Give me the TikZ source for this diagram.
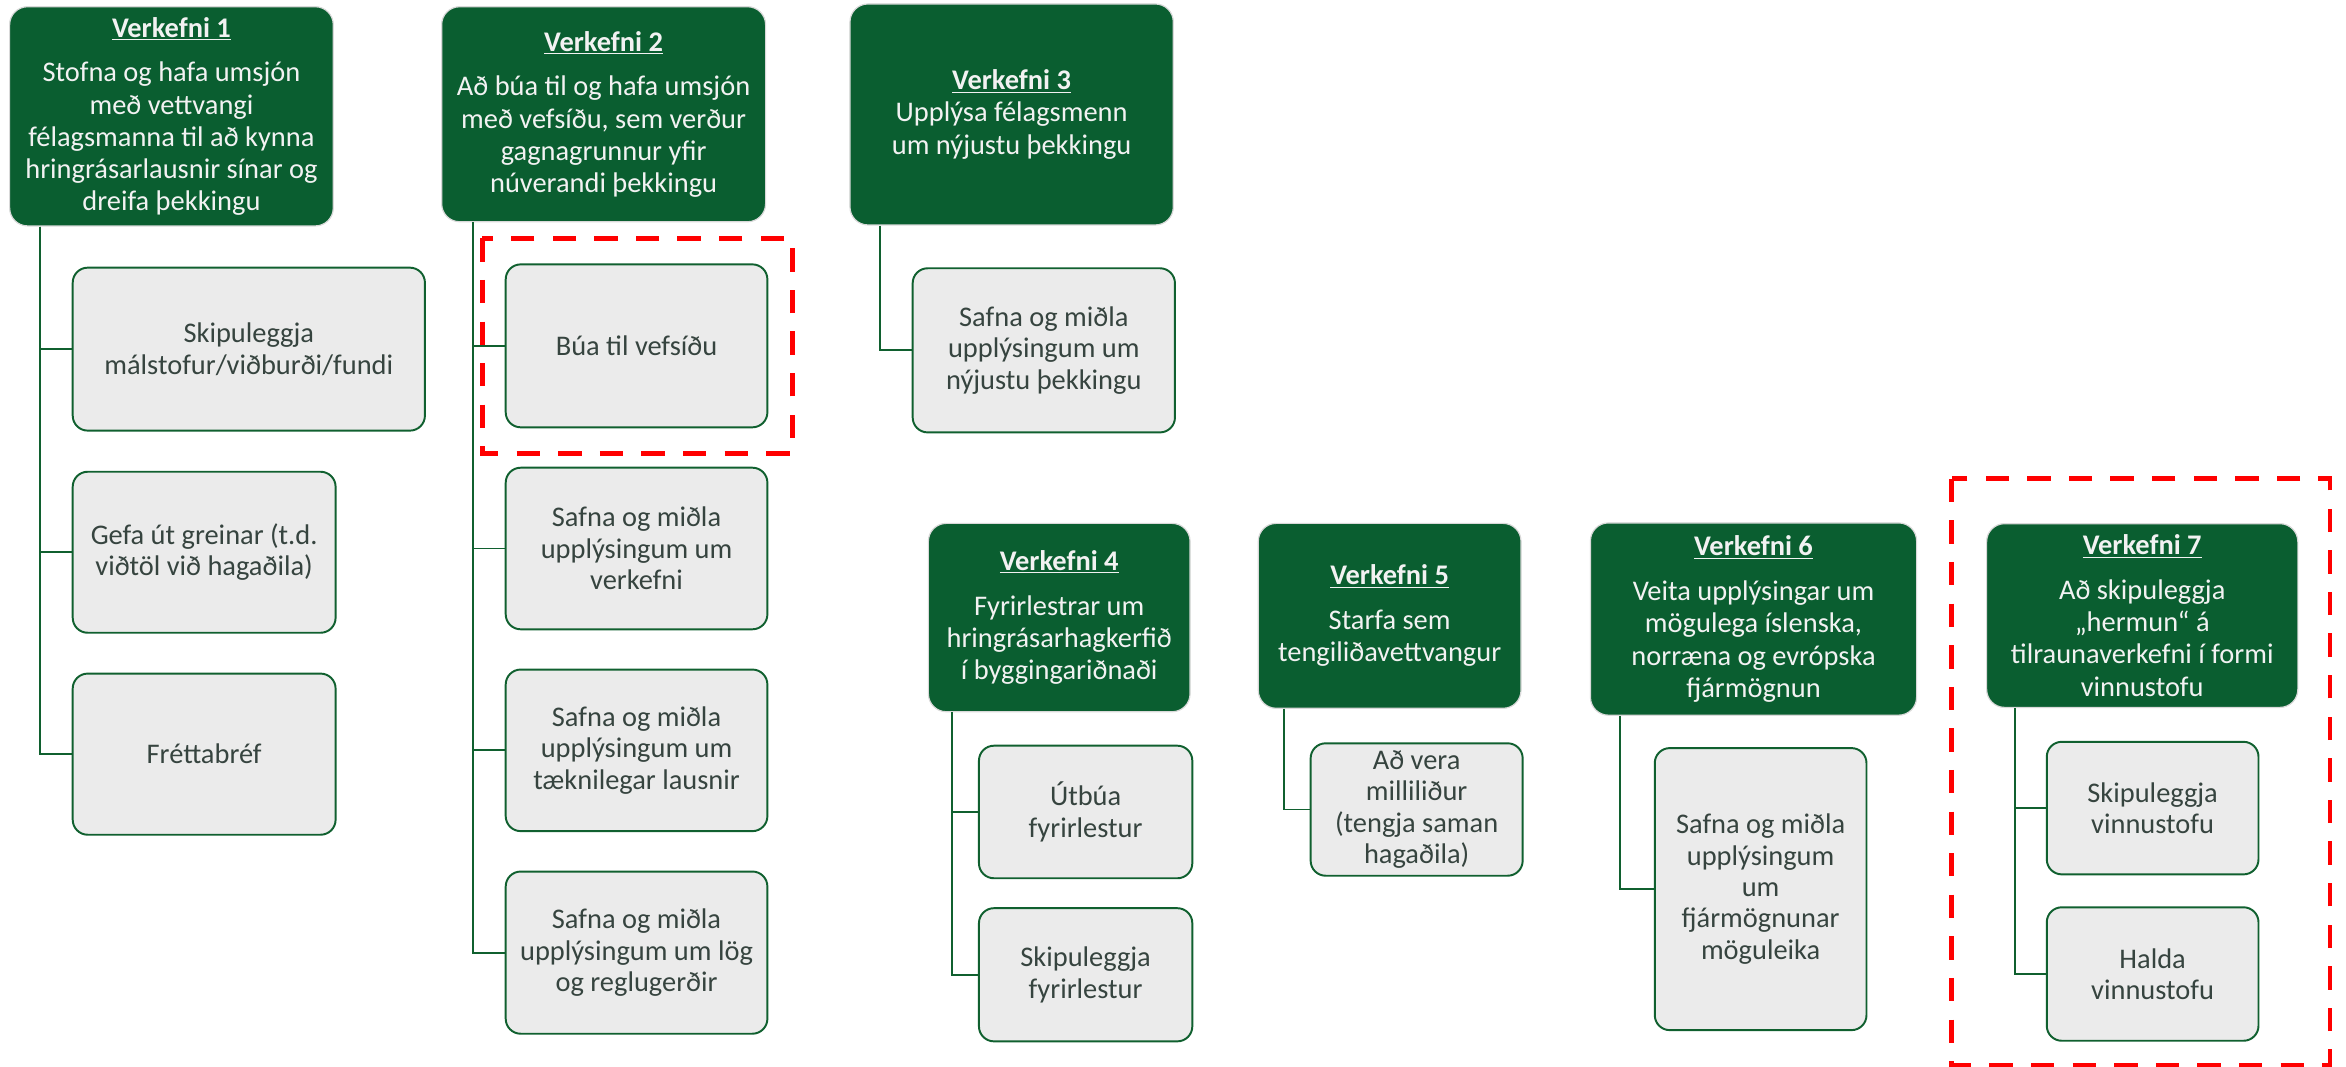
\documentclass[tikz,border=0pt]{standalone}
\usepackage{fontspec}
\setmainfont{Carlito}
\usetikzlibrary{calc}
\definecolor{hdrgreen}{HTML}{0A5E30}
\definecolor{hdrtext}{HTML}{F2F2F2}
\definecolor{childfill}{HTML}{EBEBEB}
\definecolor{childline}{HTML}{10602F}
\definecolor{childtext}{HTML}{36443F}
\definecolor{halo}{HTML}{D9D9D9}
\definecolor{redline}{HTML}{FF0000}
\tikzset{
  hdr/.style={rounded corners=12pt, fill=hdrgreen, draw=halo, line width=0.8pt,
    text=hdrtext, align=center, inner sep=0pt,
    font=\fontsize{19}{21.5}\selectfont},
  childbox/.style={rounded corners=10pt, fill=childfill, draw=childline, line width=1.3pt,
    text=childtext, align=center, inner sep=0pt,
    font=\fontsize{19}{21}\selectfont},
  conn/.style={draw=childline, line width=1.3pt},
  reddash/.style={draw=redline, line width=3.3pt, dash pattern=on 15.6pt off 12.2pt},
}
\newcommand{\vtitle}[1]{\underline{\textbf{#1}}}
\begin{document}
\begin{tikzpicture}[x=1pt,y=-1pt]
\useasboundingbox (0,0) rectangle (1568,712.5);

% headers
\node[hdr, minimum width=216.3pt, minimum height=146.5pt] (v1) at (114.6,77.75)
  {\vtitle{Verkefni 1}\\[8.5pt]Stofna og hafa umsjón\\með vettvangi\\félagsmanna til að kynna\\hringrásarlausnir sínar og\\dreifa þekkingu};
\node[hdr, minimum width=216.5pt, minimum height=143.7pt] (v2) at (403.45,76.35)
  {\vtitle{Verkefni 2}\\[8.5pt]Að búa til og hafa umsjón\\með vefsíðu, sem verður\\gagnagrunnur yfir\\núverandi þekkingu};
\node[hdr, minimum width=216.1pt, minimum height=147.7pt] (v3) at (676.15,76.5)
  {\vtitle{Verkefni 3}\\Upplýsa félagsmenn\\um nýjustu þekkingu};
\node[hdr, minimum width=174.9pt, minimum height=125.9pt] (v4) at (707.95,412.75)
  {\vtitle{Verkefni 4}\\[8.5pt]Fyrirlestrar um\\hringrásarhagkerfið\\í byggingariðnaði};
\node[hdr, minimum width=175.6pt, minimum height=123.6pt] (v5) at (928.8,411.6)
  {\vtitle{Verkefni 5}\\[8.5pt]Starfa sem\\tengiliðavettvangur};
\node[hdr, minimum width=218pt, minimum height=128.5pt] (v6) at (1172,413.75)
  {\vtitle{Verkefni 6}\\[8.5pt]Veita upplýsingar um\\mögulega íslenska,\\norræna og evrópska\\fjármögnun};
\node[hdr, minimum width=208pt, minimum height=122.8pt] (v7) at (1431.8,411.4)
  {\vtitle{Verkefni 7}\\[8.5pt]Að skipuleggja\\„hermun“ á\\tilraunaverkefni í formi\\vinnustofu};

% children
\node[childbox, minimum width=235.4pt, minimum height=108.9pt] (c11) at (166.3,233.35)
  {Skipuleggja\\málstofur/viðburði/fundi};
\node[childbox, minimum width=175.7pt, minimum height=107.6pt] (c12) at (136.45,369.1)
  {Gefa út greinar (t.d.\\viðtöl við hagaðila)};
\node[childbox, minimum width=175.7pt, minimum height=107.7pt] (c13) at (136.45,504.05)
  {Fréttabréf};

\node[childbox, minimum width=174.9pt, minimum height=108.9pt] (c21) at (425.45,231.15)
  {Búa til vefsíðu};
\node[childbox, minimum width=174.9pt, minimum height=108pt] (c22) at (425.45,366.6)
  {Safna og miðla\\upplýsingum um\\verkefni};
\node[childbox, minimum width=174.9pt, minimum height=108pt] (c23) at (425.45,501.5)
  {Safna og miðla\\upplýsingum um\\tæknilegar lausnir};
\node[childbox, minimum width=174.9pt, minimum height=108.4pt] (c24) at (425.45,636.7)
  {Safna og miðla\\upplýsingum um lög\\og reglugerðir};

\node[childbox, minimum width=175.3pt, minimum height=109.7pt] (c31) at (697.65,234.15)
  {Safna og miðla\\upplýsingum um\\nýjustu þekkingu};

\node[childbox, minimum width=142.6pt, minimum height=88.6pt] (c41) at (725.6,542.7)
  {Útbúa\\fyrirlestur};
\node[childbox, minimum width=142.6pt, minimum height=89pt] (c42) at (725.6,651.5)
  {Skipuleggja\\fyrirlestur};

\node[childbox, minimum width=141.7pt, minimum height=88.5pt] (c51) at (946.85,541.05)
  {Að vera\\milliliður\\(tengja saman\\hagaðila)};

\node[childbox, minimum width=141.5pt, minimum height=188.5pt] (c61) at (1176.75,594.25)
  {Safna og miðla\\upplýsingum\\um\\fjármögnunar\\möguleika};

\node[childbox, minimum width=141.5pt, minimum height=88.6pt] (c71) at (1438.75,540.1)
  {Skipuleggja\\vinnustofu};
\node[childbox, minimum width=141.5pt, minimum height=89.2pt] (c72) at (1438.75,651)
  {Halda\\vinnustofu};

% trunk start points
\coordinate (t1) at ($(v1.south west)+(20.7,0)$);
\coordinate (t2) at ($(v2.south west)+(21.2,0)$);
\coordinate (t3) at ($(v3.south west)+(20.5,0)$);
\coordinate (t4) at ($(v4.south west)+(16.2,0)$);
\coordinate (t5) at ($(v5.south west)+(17.4,0)$);
\coordinate (t6) at ($(v6.south west)+(20.4,0)$);
\coordinate (t7) at ($(v7.south west)+(19.6,0)$);

% connectors
\foreach \c in {c11,c12,c13} \draw[conn] (t1) |- (\c.west);
\foreach \c in {c21,c22,c23,c24} \draw[conn] (t2) |- (\c.west);
\draw[conn] (t3) |- (c31.west);
\foreach \c in {c41,c42} \draw[conn] (t4) |- (\c.west);
\draw[conn] (t5) |- (c51.west);
\draw[conn] (t6) |- (c61.west);
\foreach \c in {c71,c72} \draw[conn] (t7) |- (\c.west);

% red dashed highlight frames
\draw[reddash] (322.2,159.3) rectangle (529.6,303);
\draw[reddash] (1304.5,320) rectangle (1557.3,711.8);
\end{tikzpicture}
\end{document}
